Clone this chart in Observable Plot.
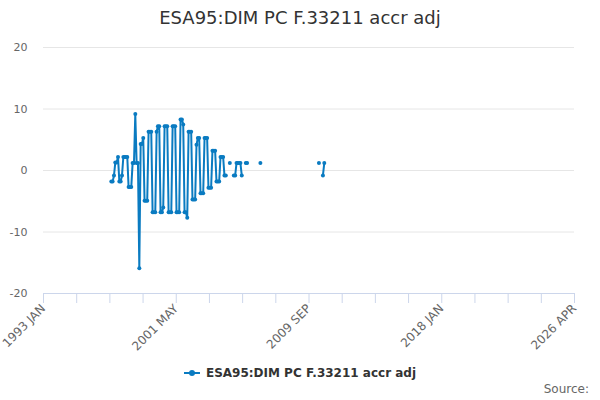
<!DOCTYPE html>
<html><head><meta charset="utf-8">
<script src="https://cdn.jsdelivr.net/npm/d3@7"></script>
<script src="https://cdn.jsdelivr.net/npm/@observablehq/plot@0.6"></script>
<style>
body{margin:0;background:#fff;font-family:"DejaVu Sans",sans-serif;}
#wrap{position:relative;width:600px;height:400px;overflow:hidden;background:#fff;}
#title{height:36px;line-height:36px;text-align:center;font-size:18px;color:#333;}
#chart svg{display:block;}
#legend{margin-top:17px;height:20px;line-height:20px;text-align:center;font-size:12px;font-weight:bold;color:#333;}
#legend .sym{display:inline-block;position:relative;width:16px;height:2px;background:#0a7bc1;vertical-align:middle;margin-right:6px;top:-1px;}
#legend .sym:after{content:"";position:absolute;left:5px;top:-2px;width:6px;height:6px;border-radius:3px;background:#0a7bc1;}
#source{position:absolute;right:11px;top:382px;font-size:12px;color:#666;}
</style></head>
<body>
<div id="wrap">
  <div id="title">ESA95:DIM PC F.33211 accr adj</div>
  <div id="chart"></div>
  <div id="legend"><span class="sym"></span>ESA95:DIM PC F.33211 accr adj</div>
  <div id="source">Source:</div>
</div>
<script>
// monthly series, first value is 1997 APR
const startYear = 1997, startMonth = 4;
const values = [
  -1.8, -1.8, -0.8, 1.3, 1.3, 2.2, -1.8, -1.8, -0.8,          // 1997 Apr - Dec
  2.2, 2.2, 2.2, 2.2, -2.7, -2.7, -2.7, 1.2, 1.2, 9.2, 1.2, 1.2, // 1998
  -15.9, 4.3, 4.3, 5.3, -4.9, -4.9, -4.9, 6.3, 6.3, 6.3, -6.8, -6.8, // 1999
  -6.8, 6.3, 7.2, 7.2, -6.8, -6.8, -6.0, 7.2, 7.2, 7.2, -6.8, -6.8, // 2000
  -6.8, 7.2, 7.2, 7.2, -6.8, -6.8, -6.8, 8.3, 8.3, 7.5, -6.8, -6.8, // 2001
  -7.7, 6.3, 6.3, 6.3, -4.7, -4.7, -4.7, 4.2, 5.3, 5.3, -3.7, -3.7, // 2002
  -3.7, 5.3, 5.3, 5.3, -2.8, -2.8, -2.8, 3.2, 3.2, 3.2, -1.8, -1.8, // 2003
  -1.8, 2.2, 2.2, 2.2, -0.8, -0.8, null, null, 1.2, null, null, -0.8, // 2004
  -0.8, 1.2, 1.2, 1.2, 1.2, -0.8, null, null, 1.2, 1.2, null, null, // 2005
  null, null, null, null, null, null, null, 1.2, null, null, null, null, // 2006
  null, null, null, null, null, null, null, null, null, null, null, null, // 2007
  null, null, null, null, null, null, null, null, null, null, null, null, // 2008
  null, null, null, null, null, null, null, null, null, null, null, null, // 2009
  null, null, null, 1.2, null, null, -0.8, 1.2                       // 2010
];
const yTicks = [-20, -10, 0, 10, 20];
const tickLabels = ["1993 JAN", "2001 MAY", "2009 SEP", "2018 JAN", "2026 APR"];
const color = "#0a7bc1";

const data = values.map((v, i) => ({
  date: new Date(Date.UTC(startYear, startMonth - 1 + i, 1)),
  value: v
}));

const x0 = new Date(Date.UTC(1993, 0, 1)), x1 = new Date(Date.UTC(2026, 3, 1));
const tickDates = d3.range(17).map(i => new Date(+x0 + (x1 - x0) * i / 16));
const labelAt = new Map(tickLabels.map((t, j) => [+tickDates[j * 4], t]));

const chart = Plot.plot({
  width: 600, height: 310,
  marginTop: 11, marginBottom: 53, marginLeft: 43, marginRight: 26,
  style: {fontFamily: "DejaVu Sans", fontSize: "11px", background: "#fff", overflow: "visible"},
  x: {type: "utc", domain: [x0, x1]},
  y: {domain: [-20, 20]},
  marks: [
    Plot.gridY(yTicks.filter(v => v > -20), {stroke: "#e6e6e6", strokeOpacity: 1}),
    Plot.axisY(yTicks, {tickSize: 0, tickPadding: 16, tickFormat: d => String(d), fill: "#666", label: null}),
    Plot.ruleY([-20], {stroke: "#ccd6eb"}),
    Plot.axisX(tickDates, {tickSize: 10, stroke: "#ccd6eb", strokeOpacity: 1, tickRotate: -45, tickPadding: 3,
      tickFormat: d => labelAt.get(+d) || "", fill: "#666", fontSize: 12, label: null}),
    Plot.line(data, {x: "date", y: "value", stroke: color, strokeWidth: 2}),
    Plot.dot(data.filter(d => d.value != null), {x: "date", y: "value", r: 2, fill: color})
  ]
});
document.getElementById("chart").appendChild(chart);
</script>
</body></html>
